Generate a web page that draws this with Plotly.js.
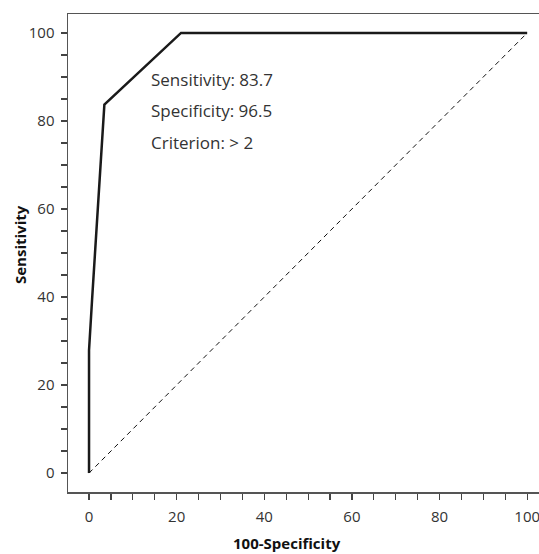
<!DOCTYPE html>
<html>
<head>
<meta charset="utf-8">
<script src="https://cdn.plot.ly/plotly-3.0.1.min.js"></script>
<style>html,body{margin:0;padding:0;background:#fff;}#chart{width:539px;height:554px;}</style>
</head>
<body>
<div id="chart"></div>
<script>
// ROC curve points (100-Specificity, Sensitivity)
var rocX = [0, 0, 0.7, 3.5, 21, 100];
var rocY = [0, 27.9, 39.5, 83.7, 100, 100];
// reference diagonal
var diagX = [0, 100];
var diagY = [0, 100];
// statistics text
var statLabels = ["Sensitivity: 83.7", "Specificity: 96.5", "Criterion: > 2"];
var statY = [89.5, 82.4, 75.2];
var statX = 13.6;
var xTickVals = [0, 20, 40, 60, 80, 100];
var yTickVals = [0, 20, 40, 60, 80, 100];

var font = "Open Sans, Noto Sans, sans-serif";
var traces = [
  {x: diagX, y: diagY, mode: "lines", line: {color: "#111", width: 1, dash: "5px,4px"}, hoverinfo: "skip"},
  {x: rocX, y: rocY, mode: "lines", line: {color: "#1a1a1a", width: 2.5}, hoverinfo: "skip"}
];
var annotations = statLabels.map(function(t, i) {
  return {x: statX, y: statY[i], xref: "x", yref: "y", text: t, showarrow: false,
          xanchor: "left", yanchor: "middle", font: {family: font, size: 17, color: "#333"}};
});
annotations.push({x: (287 - 68) / 471, y: (492 - 543) / 478, xref: "paper", yref: "paper",
  text: "<b>100-Specificity</b>", showarrow: false,
  xanchor: "center", yanchor: "middle", font: {family: font, size: 15, color: "#111"}});
annotations.push({x: (20 - 68) / 471, y: (492 - 245) / 478, xref: "paper", yref: "paper",
  text: "<b>Sensitivity</b>", showarrow: false, textangle: -90,
  xanchor: "center", yanchor: "middle", font: {family: font, size: 15, color: "#111"}});

var layout = {
  width: 539, height: 554,
  margin: {l: 68, r: 0, t: 14, b: 62},
  paper_bgcolor: "#fff", plot_bgcolor: "#fff",
  showlegend: false,
  font: {family: font, size: 15, color: "#333"},
  xaxis: {range: [-4.8, 102.7], tickvals: xTickVals, showgrid: false, zeroline: false,
          showline: true, linecolor: "#555", linewidth: 1.5, mirror: true,
          ticks: "outside", ticklen: 6, tickcolor: "#444", tickwidth: 1.2, ticklabelstandoff: 4,
          ticklabeloverflow: "allow",
          minor: {dtick: 5, tick0: 0, ticks: "outside", ticklen: 6, tickcolor: "#444", tickwidth: 1.2, showgrid: false},
          tickfont: {family: font, size: 15, color: "#333"}},
  yaxis: {range: [-4.3, 104.3], tickvals: yTickVals, showgrid: false, zeroline: false,
          showline: true, linecolor: "#555", linewidth: 1.5, mirror: false,
          ticks: "outside", ticklen: 6, tickcolor: "#444", tickwidth: 1.2, ticklabelstandoff: 3,
          minor: {dtick: 5, tick0: 0, ticks: "outside", ticklen: 6, tickcolor: "#444", tickwidth: 1.2, showgrid: false},
          tickfont: {family: font, size: 15, color: "#333"}},
  annotations: annotations
};
Plotly.newPlot("chart", traces, layout, {displayModeBar: false, staticPlot: true});
</script>
</body>
</html>
